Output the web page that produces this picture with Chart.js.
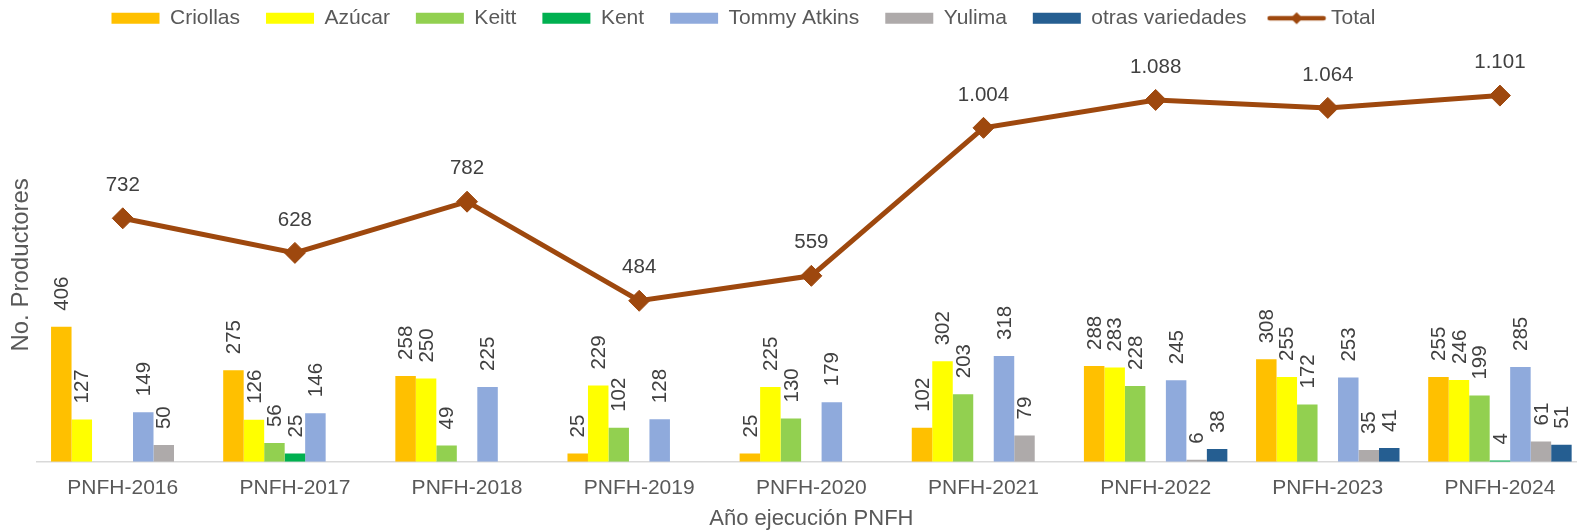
<!DOCTYPE html>
<html>
<head>
<meta charset="utf-8">
<script src="https://cdn.jsdelivr.net/npm/chart.js@4.4.1/dist/chart.umd.min.js"></script>
<style>
html,body{margin:0;padding:0;background:#fff;overflow:hidden;width:1577px;height:532px}
#wrap{width:1586px;height:532px}
</style>
</head>
<body>
<div id="wrap"><canvas id="c" width="1586" height="532"></canvas></div>
<script>
// ---- data ----
const categories = ['PNFH-2016','PNFH-2017','PNFH-2018','PNFH-2019','PNFH-2020','PNFH-2021','PNFH-2022','PNFH-2023','PNFH-2024'];
const criollas        = [406, 275, 258, 25, 25, 102, 288, 308, 255];
const azucar          = [127, 126, 250, 229, 225, 302, 283, 255, 246];
const keitt           = [null, 56, 49, 102, 130, 203, 228, 172, 199];
const kent            = [null, 25, null, null, null, null, null, null, 4];
const tommyAtkins     = [149, 146, 225, 128, 179, 318, 245, 253, 285];
const yulima          = [50, null, null, null, null, 79, 6, 35, 61];
const otrasVariedades = [null, null, null, null, null, null, 38, 41, 51];
const total           = [732, 628, 782, 484, 559, 1004, 1088, 1064, 1101];
const seriesNames = ['Criollas','Azúcar','Keitt','Kent','Tommy Atkins','Yulima','otras variedades','Total'];
const yAxisTitle = 'No. Productores';
const xAxisTitle = 'Año ejecución PNFH';

// ---- style ----
const FONT = "'Liberation Sans', Arial, sans-serif";
const barColors = ['#FFC000','#FFFF00','#92D050','#00B050','#8FAADC','#AEAAAA','#255E91'];
const lineColor = '#9E480E';
const Y_MAX = 1184;
const LEGEND_DX = 85.5;
const LEGEND_DY = -29.3;

Chart.defaults.font.family = FONT;
Chart.defaults.color = '#595959';

function fmt(v){ return String(v).replace(/\B(?=(\d{3})+(?!\d))/g, '.'); }

// legend icon for the Total line series
const totalIcon = document.createElement('canvas');
totalIcon.width = 60; totalIcon.height = 22;
(function(){
  const g = totalIcon.getContext('2d');
  g.strokeStyle = lineColor; g.fillStyle = lineColor;
  g.lineWidth = 4.5; g.lineCap = 'round';
  g.beginPath(); g.moveTo(3, 11); g.lineTo(57, 11); g.stroke();
  g.beginPath(); g.moveTo(30, 5); g.lineTo(36, 11); g.lineTo(30, 17); g.lineTo(24, 11); g.closePath(); g.fill();
})();

const barSeries = [criollas, azucar, keitt, kent, tommyAtkins, yulima, otrasVariedades];
const datasets = barSeries.map((arr, i) => ({
  type: 'bar',
  label: seriesNames[i],
  data: arr,
  backgroundColor: barColors[i],
  borderWidth: 0,
  barPercentage: 1.0,
  categoryPercentage: 0.8333
}));
datasets.push({
  type: 'line',
  label: seriesNames[7],
  data: total,
  borderColor: lineColor,
  backgroundColor: lineColor,
  borderWidth: 5,
  pointStyle: 'rectRot',
  pointRadius: 10.5,
  pointBackgroundColor: lineColor,
  pointBorderColor: lineColor,
  pointBorderWidth: 1,
  tension: 0,
  fill: false,
  clip: false
});

const layoutTweak = {
  id: 'layoutTweak',
  afterLayout(chart) {
    const lg = chart.legend;
    if (!lg) return;
    lg.left += LEGEND_DX; lg.right += LEGEND_DX;
    lg.top += LEGEND_DY; lg.bottom += LEGEND_DY;
  }
};

const valueLabels = {
  id: 'valueLabels',
  afterDatasetsDraw(chart) {
    const ctx = chart.ctx;
    ctx.save();
    ctx.fillStyle = '#404040';
    ctx.font = '20.5px ' + FONT;
    chart.data.datasets.forEach((ds, di) => {
      const meta = chart.getDatasetMeta(di);
      meta.data.forEach((el, i) => {
        const v = ds.data[i];
        if (v === null || v === undefined) return;
        const txt = fmt(v);
        if (ds.type === 'line') {
          ctx.textAlign = 'center'; ctx.textBaseline = 'middle';
          ctx.fillText(txt, el.x, el.y - 33);
        } else {
          ctx.save();
          ctx.translate(el.x + 1, el.y - 16);
          ctx.rotate(-Math.PI / 2);
          ctx.textAlign = 'left'; ctx.textBaseline = 'middle';
          ctx.fillText(txt, 0, 0);
          ctx.restore();
        }
      });
    });
    ctx.restore();
  }
};

new Chart(document.getElementById('c'), {
  type: 'bar',
  data: { labels: categories, datasets },
  options: {
    responsive: false,
    animation: false,
    devicePixelRatio: 1,
    layout: { autoPadding: false, padding: { top: 11, left: 0, right: 0, bottom: 0 } },
    plugins: {
      tooltip: { enabled: false },
      legend: {
        display: true,
        position: 'top',
        align: 'start',
        labels: {
          usePointStyle: true,
          pointStyleWidth: 48,
          boxHeight: 11,
          padding: 26,
          color: '#595959',
          font: { size: 21, family: FONT },
          generateLabels(chart) {
            const items = Chart.defaults.plugins.legend.labels.generateLabels(chart);
            items.forEach(it => {
              if (it.datasetIndex === 7) { it.pointStyle = totalIcon; it.lineWidth = 0; }
              else { it.pointStyle = 'rect'; it.lineWidth = 0; }
            });
            return items;
          }
        }
      }
    },
    scales: {
      x: {
        type: 'category',
        offset: true,
        grid: { display: false, drawTicks: false },
        border: { display: true, color: '#D9D9D9', width: 1.5 },
        ticks: { color: '#595959', font: { size: 21, lineHeight: 2.552 }, padding: 0, maxRotation: 0, autoSkip: false },
        title: { display: true, text: xAxisTitle, color: '#595959', font: { size: 22 }, padding: { top: -9.7, bottom: 0 } }
      },
      y: {
        min: 0,
        max: Y_MAX,
        grid: { display: false, drawTicks: false },
        border: { display: false },
        ticks: { display: false },
        title: { display: true, text: yAxisTitle, color: '#595959', font: { size: 24 }, padding: { top: 7.3, bottom: 0.6 } }
      }
    }
  },
  plugins: [layoutTweak, valueLabels]
});
</script>
</body>
</html>
